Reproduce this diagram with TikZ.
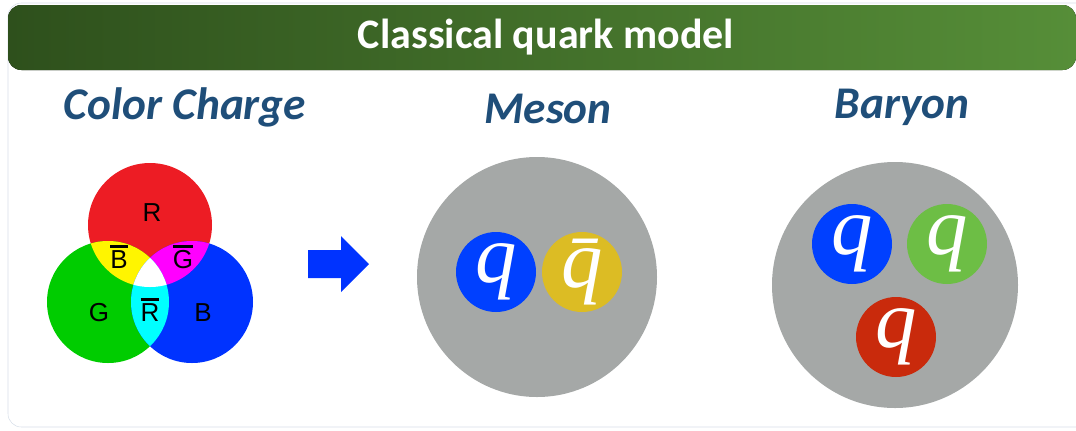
\documentclass[tikz,border=0pt]{standalone}
\usepackage{fontspec}
\setmainfont{Liberation Sans}
\newfontfamily\headfont{Carlito}
\newfontfamily\qfont{Liberation Serif Italic}
\usetikzlibrary{positioning}
\definecolor{framegray}{RGB}{214,222,232}
\definecolor{headdark}{RGB}{46,80,28}
\definecolor{headlight}{RGB}{86,142,56}
\definecolor{titleblue}{RGB}{31,78,121}
\definecolor{venred}{RGB}{237,28,36}
\definecolor{vengreen}{RGB}{0,204,0}
\definecolor{venblue}{RGB}{0,51,255}
\definecolor{venyellow}{RGB}{255,245,0}
\definecolor{venmagenta}{RGB}{255,0,255}
\definecolor{vencyan}{RGB}{0,255,255}
\definecolor{hadgray}{RGB}{165,168,167}
\definecolor{qblue}{RGB}{0,64,255}
\definecolor{qyellow}{RGB}{220,188,36}
\definecolor{qgreen}{RGB}{109,190,69}
\definecolor{qred}{RGB}{201,42,12}
\newcommand\barlet[1]{\vbox{\hrule height 1.8pt\kern 2.2pt\hbox{#1}}}

\begin{document}
\begin{tikzpicture}[x=0.75pt,y=-0.75pt,
    title/.style={text=titleblue,font=\headfont\bfseries\itshape\fontsize{34}{34}\selectfont},
    quark/.style={circle,minimum size=60pt,inner sep=0pt,text=white,
      font=\qfont\fontsize{62}{62}\selectfont},
    venlbl/.style={font=\fontsize{19.5}{19.5}\selectfont}]
  \useasboundingbox (0,0) rectangle (1076,430);
  % frame and header
  \draw[framegray,rounded corners=10] (8,3) rectangle (1090,427);
  \fill[left color=headdark,right color=headlight,rounded corners=10] (8,5) rectangle (1076,70);
  \node[text=white,font=\headfont\bfseries\fontsize{31.5}{31.5}\selectfont] (head) at (546,37) {Classical quark model};
  % titles
  \node[title] (tcolor) at (185,107) {Color Charge};
  \node[title] (tmeson) at (548,109) {Meson};
  \node[title] (tbaryon) at (902,107) {Baryon};
  % colour charge
  \fill[venred] (150,225) circle (62);
  \fill[vengreen] (108,302) circle (61);
  \fill[venblue] (192,302) circle (61);
  \begin{scope}
    \clip (150,225) circle (62);
    \fill[venyellow] (108,302) circle (61);
    \fill[venmagenta] (192,302) circle (61);
  \end{scope}
  \begin{scope}
    \clip (108,302) circle (61);
    \fill[vencyan] (192,302) circle (61);
    \clip (192,302) circle (61);
    \fill[white] (150,225) circle (62);
  \end{scope}
  \node[venlbl] (lr) at (152,213) {R};
  \node[venlbl] (lbb) at (119,257) {\barlet{B}};
  \node[venlbl] (lgb) at (183,257) {\barlet{G}};
  \node[venlbl] (lg) at (99,313) {G};
  \node[venlbl] (lrb) at (150,310) {\barlet{R}};
  \node[venlbl] (lb) at (203,313) {B};
  % block arrow
  \fill[venblue] (308,250) -- (341,250) -- (341,236) -- (369,264)
    -- (341,292) -- (341,278) -- (308,278) -- cycle;
  % meson
  \fill[hadgray] (537,277) circle (120);
  \node[quark,fill=qblue] (mq) at (496,272) {q};
  \node[quark,fill=qyellow] (mqbar) at (582,272) {\=q};
  % baryon
  \fill[hadgray] (895,285) circle (123);
  \node[quark,fill=qblue] (bq1) at (852,244) {q};
  \node[quark,fill=qgreen] (bq2) at (947,244) {q};
  \node[quark,fill=qred] (bq3) at (896,337) {q};
\end{tikzpicture}
\end{document}
